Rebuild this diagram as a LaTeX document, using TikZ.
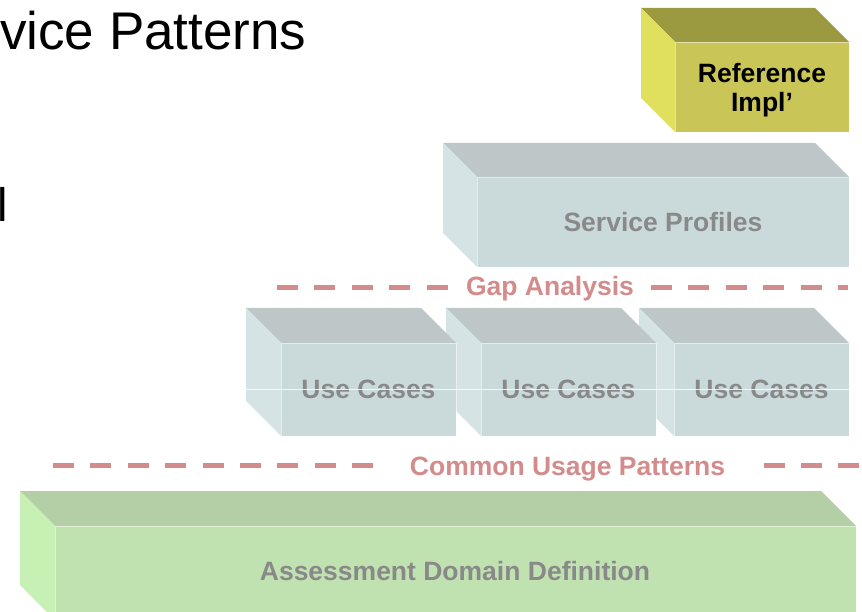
\documentclass[tikz,border=0pt]{standalone}
\usepackage{fontspec}
\setmainfont{Liberation Sans}
\usepackage{tikz}
\usetikzlibrary{calc,positioning}

\definecolor{refFront}{RGB}{201,197,86}
\definecolor{refTop}{RGB}{155,154,64}
\definecolor{refSide}{RGB}{225,224,94}
\definecolor{greyFront}{RGB}{202,218,219}
\definecolor{greyTop}{RGB}{189,199,200}
\definecolor{greySide}{RGB}{213,227,228}
\definecolor{greenFront}{RGB}{192,226,176}
\definecolor{greenTop}{RGB}{180,206,166}
\definecolor{greenSide}{RGB}{199,240,181}
\definecolor{boxtext}{RGB}{137,137,137}
\definecolor{gapred}{RGB}{211,139,139}

\tikzstyle{boxlabel}=[font=\fontsize{26.5}{29}\selectfont\bfseries,text=boxtext,align=center,inner sep=0pt]
\tikzstyle{divider}=[line width=5pt,draw=gapred,dash pattern=on 21pt off 16.4pt]
\tikzstyle{divlabel}=[font=\fontsize{26.5}{29}\selectfont\bfseries,text=gapred,fill=white,inner ysep=5pt,anchor=base]
\tikzstyle{frontface}=[draw=white,draw opacity=.5,line width=.6pt]

% block: x0, y0, x1, y1 of the front face, depth, front, top, side colours
\newcommand{\drawslab}[8]{%
  \fill[#7] (#1,#2) -- ({#1-#5},{#2-#5}) -- ({#3-#5},{#2-#5}) -- (#3,#2) -- cycle;
  \fill[#8] (#1,#2) -- ({#1-#5},{#2-#5}) -- ({#1-#5},{#4-#5}) -- (#1,#4) -- cycle;
  \filldraw[frontface,fill=#6] (#1,#2) rectangle (#3,#4);
}

\begin{document}
\begin{tikzpicture}[x=1pt,y=-1pt]

    \useasboundingbox (0,0) rectangle (862,612);
    \clip (0,0) rectangle (862,612);

    \node[anchor=base west,inner sep=0pt,font=\fontsize{53}{60}\selectfont] (title) at (0,50) {vice Patterns};
    \node[anchor=base west,inner sep=0pt,font=\fontsize{47}{50}\selectfont] (cutletter) at (-3.1,222) {l};

    % top blocks
    \drawslab{675}{42}{849}{132}{34}{refFront}{refTop}{refSide}
    \node[boxlabel,text=black] (reference) at (762,90) {Reference\\ Impl’};

    \drawslab{477}{177}{849}{267}{34}{greyFront}{greyTop}{greySide}
    \node[boxlabel,anchor=base] (profiles) at (663,232) {Service Profiles};

    \coordinate (gapL) at (277,288);
    \coordinate (gapR) at (848,288);
    \draw[divider] (gapL) -- (gapR);
    \node[divlabel,inner xsep=4pt] (gap) at (550,296) {Gap Analysis};

    % use cases, right one first
    \drawslab{674}{343}{849}{436}{35}{greyFront}{greyTop}{greySide}
    \drawslab{481}{343}{656}{436}{35}{greyFront}{greyTop}{greySide}
    \drawslab{281}{343}{456}{436}{35}{greyFront}{greyTop}{greySide}
    \node[boxlabel,anchor=base] (usecasesA) at (368.5,398) {Use Cases};
    \node[boxlabel,anchor=base] (usecasesB) at (568.5,398) {Use Cases};
    \node[boxlabel,anchor=base] (usecasesC) at (761.5,398) {Use Cases};
    \draw[white,line width=.7pt,opacity=.8] (246,389) -- (849,389);

    \coordinate (commonL) at (53,465);
    \coordinate (commonR) at (870,465);
    \draw[divider] (commonL) -- (commonR);
    \node[divlabel,inner xsep=25pt] (common) at (567.5,475) {Common Usage Patterns};

    % base block
    \drawslab{55}{526}{856}{620}{35}{greenFront}{greenTop}{greenSide}
    \node[boxlabel,anchor=base] (domain) at (455,580) {Assessment Domain Definition};

\end{tikzpicture}
\end{document}
